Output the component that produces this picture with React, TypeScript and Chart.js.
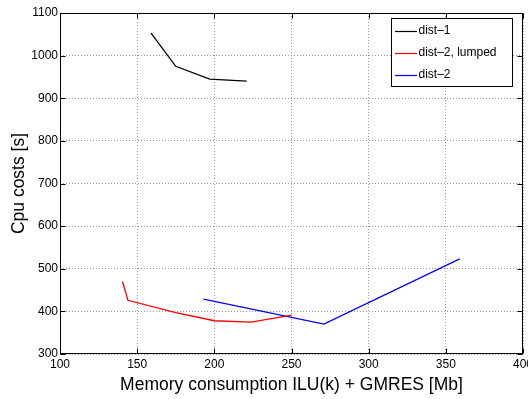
import React, { useEffect, useRef } from "react";
import { Chart, registerables } from "chart.js";

Chart.register(...registerables);

// ---- data ----
const dist1X = [159, 175, 197, 221];
const dist1Y = [1053, 975, 945, 940];

const lumpedX = [140.5, 144, 175, 200, 224, 250];
const lumpedY = [470, 426, 397, 378, 375, 391];

const dist2X = [193, 271, 359];
const dist2Y = [429, 370, 523];

const seriesNames = ["dist\u20131", "dist\u20132, lumped", "dist\u20132"];
const seriesColors = ["#000000", "#ff0000", "#0000ff"];

const xMin = 100;
const xMax = 400;
const xStep = 50;
const yMin = 300;
const yMax = 1100;
const yStep = 100;

const xTitle = "Memory consumption ILU(k) + GMRES [Mb]";
const yTitle = "Cpu costs [s]";

const FONT = "'Liberation Sans', Arial, Helvetica, sans-serif";

const toPoints = (xs: number[], ys: number[]) => xs.map((x, i) => ({ x, y: ys[i] }));

const framePlugin = {
  id: "matlabFrame",
  afterDraw(chart: any) {
    const { ctx, chartArea } = chart;
    const { left, right, top, bottom } = chartArea;
    const xs = chart.scales.x;
    const ys = chart.scales.y;
    ctx.save();
    ctx.strokeStyle = "#000";
    ctx.lineWidth = 1;
    ctx.setLineDash([]);
    const L = Math.round(left) + 0.5;
    const R = Math.round(right) - 0.5;
    const T = Math.round(top) + 0.5;
    const B = Math.round(bottom) - 0.5;
    ctx.strokeRect(L, T, R - L, B - T);
    const tl = 5;
    ctx.beginPath();
    xs.ticks.forEach((t: any) => {
      const px = Math.round(xs.getPixelForValue(t.value)) + 0.5;
      ctx.moveTo(px, B);
      ctx.lineTo(px, B - tl);
      ctx.moveTo(px, T);
      ctx.lineTo(px, T + tl);
    });
    ys.ticks.forEach((t: any) => {
      const py = Math.round(ys.getPixelForValue(t.value)) + 0.5;
      ctx.moveTo(L, py);
      ctx.lineTo(L + tl, py);
      ctx.moveTo(R, py);
      ctx.lineTo(R - tl, py);
    });
    ctx.stroke();

    // legend box
    const bx = 391.5;
    const by = 18.5;
    const bw = 121;
    const bh = 68;
    ctx.fillStyle = "#fff";
    ctx.fillRect(bx, by, bw, bh);
    ctx.strokeRect(bx, by, bw, bh);
    ctx.font = `12px ${FONT}`;
    ctx.textBaseline = "middle";
    ctx.textAlign = "left";
    chart.data.datasets.forEach((ds: any, i: number) => {
      const cy = 31 + i * 22;
      ctx.strokeStyle = ds.borderColor;
      ctx.lineWidth = 1.2;
      ctx.beginPath();
      ctx.moveTo(395, cy + 0.5);
      ctx.lineTo(417, cy + 0.5);
      ctx.stroke();
      ctx.fillStyle = "#000";
      ctx.fillText(ds.label, 418.5, cy);
    });
    ctx.restore();
  },
};

export default function App() {
  const ref = useRef<HTMLCanvasElement | null>(null);

  useEffect(() => {
    document.body.style.margin = "0";
    if (!ref.current) return;
    const gridCommon = {
      color: "#9a9a9a",
      lineWidth: 1,
      drawTicks: false,
      borderDash: [1, 2],
    };
    const chart = new Chart(ref.current, {
      type: "line",
      data: {
        datasets: [
          { label: seriesNames[0], data: toPoints(dist1X, dist1Y) },
          { label: seriesNames[1], data: toPoints(lumpedX, lumpedY) },
          { label: seriesNames[2], data: toPoints(dist2X, dist2Y) },
        ].map((d, i) => ({
          ...d,
          borderColor: seriesColors[i],
          backgroundColor: seriesColors[i],
          borderWidth: 1.3,
          pointRadius: 0,
          fill: false,
          tension: 0,
        })),
      },
      options: {
        responsive: false,
        animation: false,
        maintainAspectRatio: false,
        layout: { padding: { top: 13, right: 5, left: 0, bottom: 0 } },
        plugins: {
          legend: { display: false },
          tooltip: { enabled: false },
        },
        scales: {
          x: {
            type: "linear",
            min: xMin,
            max: xMax,
            ticks: {
              stepSize: xStep,
              color: "#000",
              padding: 3,
              maxRotation: 0,
              autoSkip: false,
              font: { family: FONT, size: 12 },
              callback: (v: any) => String(v),
            },
            grid: gridCommon,
            border: { display: false, dash: [1, 2] },
            title: {
              display: true,
              text: xTitle,
              color: "#000",
              font: { family: FONT, size: 17.5 },
              padding: { top: 0, bottom: 3 },
            },
            afterFit: (s: any) => {
              s.height = 45;
              s.paddingLeft = 0;
              s.paddingRight = 0;
            },
          },
          y: {
            type: "linear",
            min: yMin,
            max: yMax,
            ticks: {
              stepSize: yStep,
              color: "#000",
              padding: 2,
              font: { family: FONT, size: 12 },
              callback: (v: any) => String(v),
            },
            grid: gridCommon,
            border: { display: false, dash: [1, 2] },
            title: {
              display: true,
              text: yTitle,
              color: "#000",
              font: { family: FONT, size: 17.5 },
              padding: { top: 9, bottom: 0 },
            },
            afterFit: (s: any) => {
              s.width = 60;
              s.paddingTop = 0;
              s.paddingBottom = 0;
            },
          },
        },
      } as any,
      plugins: [framePlugin],
    });
    return () => chart.destroy();
  }, []);

  return (
    <div style={{ width: 528, height: 399, background: "#fff", overflow: "hidden" }}>
      <canvas ref={ref} width={528} height={399} style={{ display: "block" }} />
    </div>
  );
}
